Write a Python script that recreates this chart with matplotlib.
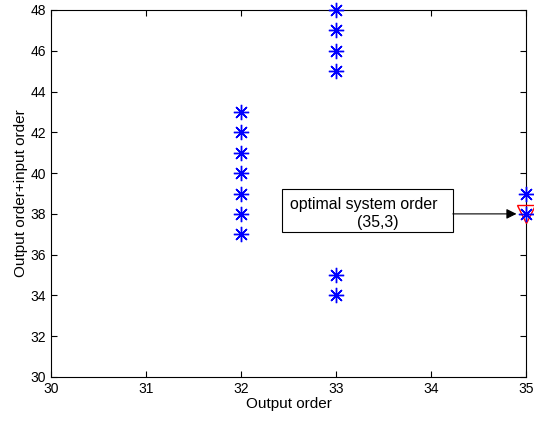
import matplotlib
matplotlib.use("Agg")
import matplotlib.pyplot as plt
from matplotlib.patches import Rectangle

plt.rcParams['font.family'] = ['Liberation Sans', 'DejaVu Sans']

x_pts = [32, 32, 32, 32, 32, 32, 32, 33, 33, 33, 33, 33, 33, 35, 35]
y_pts = [37, 38, 39, 40, 41, 42, 43, 34, 35, 45, 46, 47, 48, 38, 39]
opt_x = [35]
opt_y = [38]
xticks = [30, 31, 32, 33, 34, 35]
yticks = [30, 32, 34, 36, 38, 40, 42, 44, 46, 48]
label_line1 = 'optimal system order'
label_line2 = '(35,3)'

fig = plt.figure(figsize=(5.34, 4.21), dpi=100)
ax = fig.add_axes([51/534, 1 - 377/421, 475/534, 367/421])

ax.plot(opt_x, opt_y, linestyle='none', marker='v', markersize=13,
        markerfacecolor='none', markeredgecolor='red', markeredgewidth=1.0,
        clip_on=False, zorder=6)
ax.plot(x_pts, y_pts, linestyle='none', marker=(8, 2, 0), markersize=11,
        color='blue', markeredgewidth=1.0, clip_on=False, zorder=7)

# annotation box
bx0, bx1, by0, by1 = 32.43, 34.23, 37.12, 39.23
ax.add_patch(Rectangle((bx0, by0), bx1 - bx0, by1 - by0, fill=True,
                       facecolor='white', edgecolor='black', lw=0.8, zorder=4))
ax.text(33.29, 38.44, label_line1, ha='center', va='center', fontsize=11.4, zorder=5)
ax.text(33.44, 37.56, label_line2, ha='center', va='center', fontsize=11.4, zorder=5)
ax.annotate('', xy=(34.9, opt_y[0]), xytext=(bx1, 38.0),
            arrowprops=dict(arrowstyle='-|>', color='black', lw=0.8,
                            mutation_scale=15, shrinkA=0, shrinkB=0), zorder=5)

ax.set_xlim(30, 35)
ax.set_ylim(30, 48)
ax.set_xticks(xticks)
ax.set_yticks(yticks)
ax.tick_params(direction='in', top=True, right=True, labelsize=10, length=4)
ax.set_xlabel('Output order', fontsize=11, labelpad=1)
ax.set_ylabel('Output order+input order', fontsize=11, labelpad=2)
for s in ax.spines.values():
    s.set_linewidth(0.8)

fig.savefig('out.png', dpi=100)
